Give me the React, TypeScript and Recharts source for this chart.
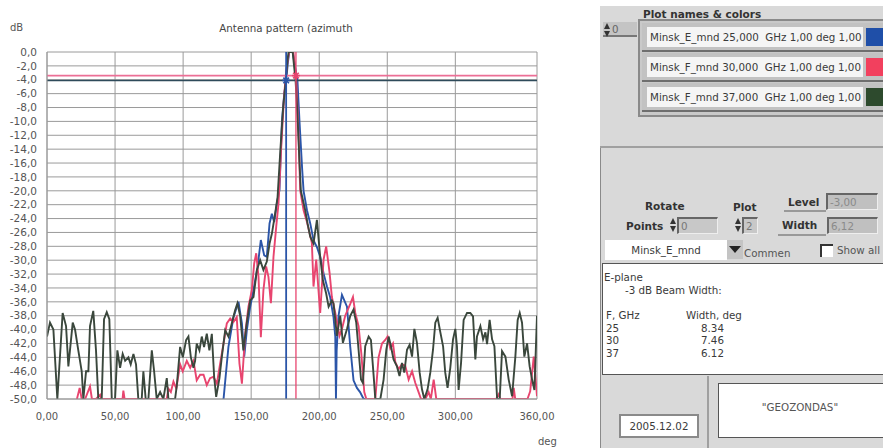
import React from "react";
import {
  LineChart,
  Line,
  XAxis,
  YAxis,
  CartesianGrid,
  ReferenceLine,
  ReferenceDot,
} from "recharts";

// ---- data (angle in deg, level in dB) ----
const xTicks = [0, 50, 100, 150, 200, 250, 300, 360];
const yTicks = [0, -2, -4, -6, -8, -10, -12, -14, -16, -18, -20, -22, -24, -26, -28, -30, -32, -34, -36, -38, -40, -42, -44, -46, -48, -50];

const blueDeg = [129, 129.7, 133.3, 137, 140.7, 143.2, 144.9, 146.8, 149.3, 151.7, 154.7, 157.1, 159.6, 161.5, 163.5, 165.2, 166.9, 168.9, 170.8, 172.6, 174.3, 175.7, 177, 178, 180.5, 182, 184, 185.5, 187.5, 188.5, 191, 193.4, 195.8, 198.3, 200.7, 203.2, 205.7, 208, 210.5, 211.8, 212.3, 212.8, 214.2, 216.7, 220.4, 222.8, 225.2, 227.7, 230, 232.6, 234];
const blueDb = [-50, -50, -42.5, -38.2, -36, -39.1, -43.9, -40.1, -36.7, -34.3, -31, -27.1, -29.3, -29.5, -24.7, -23.3, -24.5, -21.8, -19.9, -10, -6, -4.1, -1.5, 0, 0, -1.8, -4.1, -10, -17, -20, -22.8, -24.7, -27.1, -28.1, -29.5, -31.9, -33.8, -35.3, -38.2, -41, -50, -43, -38, -35, -36.7, -42.5, -47.3, -48.4, -49, -50, -50];

const pinkDeg = [22, 24, 25.5, 28, 31.6, 33, 36, 39, 40, 55.5, 56.1, 57, 88, 89.2, 91, 92.9, 95, 97.8, 99.7, 102.7, 105.2, 107.6, 110, 112.5, 115, 117.4, 119.8, 122.3, 124.8, 127.2, 129.7, 132.1, 134.6, 137, 139.4, 141.4, 143.2, 145.6, 148, 150.5, 152.2, 153.7, 155.4, 157.1, 159, 161, 162.7, 164.5, 166.4, 168.4, 170.1, 172, 174, 175.4, 177, 178, 181, 182.9, 184, 185, 186, 188.5, 191, 194.6, 195.8, 197.8, 200.7, 203.2, 205.1, 207.6, 209.3, 211.8, 214.9, 216.7, 219.1, 222.8, 224.8, 226.5, 228.9, 230.9, 233.1, 234.6, 241.2, 243.6, 246.1, 248.5, 250.2, 252.2, 254.2, 255.9, 258.3, 260.8, 263.2, 265.7, 268.2, 270.6, 273, 274.8, 278, 280.4, 282, 284.1, 286, 330, 331.9, 333, 342, 342.9, 344, 353, 355, 357.6, 360];
const pinkDb = [-50, -48.4, -50, -50, -48.2, -50, -50, -49.4, -50, -50, -48.8, -50, -50, -48.5, -49, -47.5, -48.5, -45, -46, -44.5, -45.5, -44.5, -47.3, -46.5, -46.5, -48, -47, -46.8, -47.8, -44.9, -42, -39.1, -38.4, -38.9, -38.2, -44.9, -47.8, -40.6, -36.7, -34.3, -30.5, -29, -32.4, -41.1, -34.3, -30.9, -32.4, -36.2, -29.5, -25.2, -21.8, -14, -7, -3.4, -1, 0, 0, -3.4, -8, -13, -19.9, -22.8, -24.5, -27.5, -33.8, -29.9, -37.6, -29.9, -28, -31.8, -35.3, -37.6, -40.9, -39.9, -38, -36.3, -35.3, -37.6, -39.5, -43.4, -49, -50, -50, -44, -42, -41.5, -41, -42.7, -42, -44.7, -45.7, -45, -45.2, -47.2, -46, -47.7, -49, -50, -50, -49, -50, -47.2, -50, -50, -49.3, -50, -50, -48.4, -50, -50, -48.9, -43.9, -49.6];

const greenDeg = [0, 2.2, 4.7, 7.6, 11.5, 14, 15.7, 18.9, 20.6, 23, 25.5, 26.7, 28.7, 30.4, 31.6, 34, 36, 37.7, 40.2, 41.9, 43.9, 45.8, 47.6, 50, 51.7, 53.7, 55.6, 57.4, 59.8, 61.5, 63.5, 65.4, 67.1, 69.6, 70.8, 72.5, 74.5, 77, 78.7, 80.6, 83.1, 85.5, 88, 89.2, 91.7, 94.1, 95.4, 97.8, 99.8, 102.2, 103.9, 105.7, 107.6, 108.8, 110, 112, 113.7, 115.4, 117.4, 119.3, 121.1, 122.8, 124.3, 126.7, 128.4, 130.9, 133.3, 135.8, 138.2, 139.9, 141.9, 144.3, 146.8, 149.3, 151.7, 154.2, 156.6, 159, 161.5, 163.5, 165.2, 167.6, 169.4, 171.5, 173.5, 175.5, 176.5, 177.5, 180.5, 181.5, 182.6, 184, 185.3, 186.5, 189.7, 191.4, 193.4, 195.8, 198.3, 200.7, 202.7, 205.1, 206.9, 209.3, 210.5, 213, 215.4, 217.4, 220.4, 222.8, 225.2, 227.2, 228.9, 230.7, 232.1, 233.8, 236.3, 238, 240, 241.2, 244.9, 247.3, 249.3, 251, 252.7, 254.6, 257.1, 259, 260.8, 262.5, 264.5, 266.4, 268.2, 269.9, 271.8, 273.8, 275.5, 277.2, 279.6, 281.6, 283.6, 285.3, 287, 289, 291, 292.6, 294.3, 296.3, 298.3, 300, 301.2, 302.4, 304.2, 306.1, 308.6, 311, 313, 314.7, 315.9, 318.4, 320.4, 322.1, 323.3, 325.2, 327, 328.7, 330.7, 332.6, 334.3, 336.8, 339.2, 341.7, 344.1, 345.8, 347.3, 349, 350.7, 352.7, 354.6, 356.4, 358.1, 360];
const greenDb = [-41, -39, -40, -50, -37.6, -39.5, -45.3, -39, -40, -43, -46, -50, -46, -46, -39.5, -37.3, -43, -50, -50, -38.5, -37.5, -38.5, -50, -50, -43, -45.5, -43.5, -44.5, -44, -45, -43.5, -45, -50, -50, -46, -50, -50, -43, -46, -50, -49, -50, -47, -50, -50, -50, -48, -42.5, -44, -41.5, -41, -44, -45.5, -44.5, -42, -43, -41, -42.5, -40.6, -43, -40.6, -46.8, -49.7, -47, -44, -40.1, -41, -39.1, -37.2, -36.2, -38, -43, -39, -35.8, -35.3, -31.4, -30, -31.4, -30.2, -27.6, -26.2, -23.3, -20.9, -14, -8, -4, -1.5, 0, 0, -2, -4, -9, -15, -20, -22.8, -24.7, -26.6, -27.6, -24.2, -29.5, -32.9, -34.8, -36.7, -35.8, -36.2, -40.9, -38, -41.9, -39.9, -38, -37.1, -39, -42.9, -47.2, -47.7, -42.4, -41, -41.5, -46.7, -50, -50, -47.2, -42.9, -41, -42.4, -44.3, -45.3, -46.7, -44.8, -46.2, -42.9, -42.2, -43.9, -39.9, -41.9, -46.2, -48.6, -50, -48.6, -46.2, -42.9, -39, -38.3, -40.4, -42.4, -46.2, -48.4, -45.5, -41.4, -39.9, -42.4, -48.7, -44.8, -38.6, -37.6, -37.6, -38.1, -44.3, -41, -39.5, -41.4, -40.4, -42.1, -38.6, -41.4, -42.4, -50, -50, -43.1, -43.9, -47.2, -49.6, -43.9, -38.6, -37.6, -39, -43.9, -42, -45.3, -47.2, -48.7, -38];

const plotNames = [
  "Minsk_E_mnd 25,000  GHz 1,00 deg 1,00",
  "Minsk_F_mnd 30,000  GHz 1,00 deg 1,00",
  "Minsk_F_mnd 37,000  GHz 1,00 deg 1,00",
];
const freqs = ["25", "30", "37"];
const widths = ["8.34", "7.46", "6.12"];

const blueLevel = -4.1;
const pinkLevel = -3.4;
const blueCross = 175.7;
const pinkCross = 182.9;

const BLUE = "#2b55a8";
const PINK = "#e8456f";
const GREEN = "#3a473c";
const swatches = ["#1f4fa8", "#f2405e", "#2d4a2d"];

const toSeries = (xs: number[], ys: number[]) => xs.map((d, i) => ({ deg: d, db: ys[i] }));
const blueData = toSeries(blueDeg, blueDb);
const pinkData = toSeries(pinkDeg, pinkDb);
const greenData = toSeries(greenDeg, greenDb);

const fmtX = (v: number) => v.toFixed(2).replace(".", ",");
const fmtY = (v: number) => (v === 0 ? "0,0" : v.toFixed(1).replace(".", ","));

const Star = (color: string) => (p: any) => {
  const { cx, cy } = p;
  const r = 4;
  return (
    <g stroke={color} strokeWidth={1.6}>
      <line x1={cx - r} y1={cy} x2={cx + r} y2={cy} />
      <line x1={cx} y1={cy - r} x2={cx} y2={cy + r} />
      <line x1={cx - r * 0.7} y1={cy - r * 0.7} x2={cx + r * 0.7} y2={cy + r * 0.7} />
      <line x1={cx - r * 0.7} y1={cy + r * 0.7} x2={cx + r * 0.7} y2={cy - r * 0.7} />
    </g>
  );
};

const FONT = "'DejaVu Sans', Verdana, sans-serif";

const abs = (l: number, t: number, extra: React.CSSProperties = {}): React.CSSProperties => ({
  position: "absolute",
  left: l,
  top: t,
  ...extra,
});

const txt: React.CSSProperties = { fontFamily: FONT, fontSize: 10.3, color: "#3a3a3a", whiteSpace: "pre" };
const bold: React.CSSProperties = { fontFamily: FONT, fontSize: 10.5, fontWeight: "bold", color: "#333", whiteSpace: "pre" };

const Spin = ({ l, t }: { l: number; t: number }) => (
  <div style={abs(l, t, { width: 7, height: 14 })}>
    <div style={{ position: "absolute", left: 0, top: 0, width: 0, height: 0, borderLeft: "3.5px solid transparent", borderRight: "3.5px solid transparent", borderBottom: "6px solid #333" }} />
    <div style={{ position: "absolute", left: 0, top: 8, width: 0, height: 0, borderLeft: "3.5px solid transparent", borderRight: "3.5px solid transparent", borderTop: "6px solid #333" }} />
  </div>
);

const Field = ({ l, t, w, h, text, bg = "#c8c8c8", color = "#777" }: any) => (
  <div
    style={abs(l, t, {
      width: w,
      height: h,
      background: bg,
      borderTop: "2px solid #666",
      borderLeft: "2px solid #666",
      borderRight: "1px solid #eee",
      borderBottom: "1px solid #eee",
      boxSizing: "border-box",
      ...txt,
      color,
      paddingLeft: 2,
      lineHeight: h - 3 + "px",
    })}
  >
    {text}
  </div>
);

export default function App() {
  return (
    <div style={{ position: "absolute", left: 0, top: 0, width: 883, height: 448, background: "#fff", overflow: "hidden" }}>
      <div style={abs(0, 0)}>
        <LineChart width={570} height={448} margin={{ top: 52, right: 33, left: 7, bottom: 19 }}>
          <CartesianGrid stroke="#9a9a9a" strokeWidth={1} />
          <XAxis
            dataKey="deg"
            type="number"
            domain={[0, 360]}
            ticks={xTicks}
            interval={0}
            allowDataOverflow
            tickFormatter={fmtX}
            tickSize={0}
            tickMargin={14}
            height={30}
            axisLine={{ stroke: "#9a9a9a" }}
            tick={{ fontSize: 10, fill: "#555", fontFamily: FONT }}
          />
          <YAxis
            type="number"
            domain={[-50, 0]}
            ticks={yTicks}
            interval={0}
            allowDataOverflow
            tickFormatter={fmtY}
            tickSize={0}
            tickMargin={10}
            width={40}
            axisLine={{ stroke: "#9a9a9a" }}
            tick={{ fontSize: 10.5, fill: "#555", fontFamily: FONT }}
          />
          <Line data={blueData} dataKey="db" type="linear" stroke={BLUE} strokeWidth={1.9} dot={false} isAnimationActive={false} />
          <Line data={pinkData} dataKey="db" type="linear" stroke={PINK} strokeWidth={1.9} dot={false} isAnimationActive={false} />
          <Line data={greenData} dataKey="db" type="linear" stroke={GREEN} strokeWidth={1.9} dot={false} isAnimationActive={false} />
          <ReferenceLine y={pinkLevel} stroke="#ec6f96" strokeWidth={1.6} />
          <ReferenceLine y={blueLevel} stroke="#2e4a5a" strokeWidth={1.6} />
          <ReferenceLine x={blueCross} stroke={BLUE} strokeWidth={1.8} />
          <ReferenceLine x={pinkCross} stroke={PINK} strokeWidth={1.3} />
          <ReferenceDot x={blueCross} y={blueLevel} r={4} shape={Star(BLUE)} />
          <ReferenceDot x={pinkCross} y={pinkLevel} r={4} shape={Star(PINK)} />
        </LineChart>
      </div>
      <div style={abs(10, 22, { ...txt, fontSize: 10, color: "#555" })}>dB</div>
      <div style={abs(286, 22, { ...txt, fontSize: 10.3, color: "#444", transform: "translateX(-50%)" })}>Antenna pattern (azimuth</div>
      <div style={abs(538, 436, { ...txt, fontSize: 10, color: "#555" })}>deg</div>

      {/* right control panel */}
      <div style={abs(600, 6, { width: 283, height: 442, background: "#d9d9d9" })} />
      <div style={abs(643, 8, { ...bold, fontSize: 10.5 })}>Plot names &amp; colors</div>
      <div style={abs(603, 22, { width: 34, height: 15, background: "#c4c4c4", borderBottom: "2px solid #777", boxSizing: "border-box" })} />
      <Spin l={604} t={23} />
      <div style={abs(612, 23, { ...txt, color: "#666" })}>0</div>
      <div style={abs(638, 19, { width: 250, height: 98, border: "2px solid #8a8a8a", boxSizing: "border-box", background: "#c9c9c9" })} />
      {plotNames.map((n, i) => (
        <React.Fragment key={n}>
          <div style={abs(642, 23 + 30 * i, { width: 241, height: 29, background: "#c2c2c2", borderBottom: "2px solid #6e6e6e", boxSizing: "border-box" })} />
          <div style={abs(647, 27 + 30 * i, { width: 216, height: 20, background: "#f5f5f5", ...txt, lineHeight: "20px", paddingLeft: 3, boxSizing: "border-box", overflow: "hidden" })}>{n}</div>
          <div style={abs(866, 28 + 30 * i, { width: 17, height: 18, background: swatches[i] })} />
        </React.Fragment>
      ))}

      <div style={abs(600, 146, { width: 283, height: 2, background: "#a0a0a0" })} />
      <div style={abs(600, 148, { width: 1, height: 300, background: "#8a8a8a" })} />

      <div style={abs(645, 200, bold)}>Rotate</div>
      <div style={abs(626, 220, bold)}>Points</div>
      <Spin l={670} t={218} />
      <Field l={677} t={217} w={41} h={17} text="0" />
      <div style={abs(733, 201, bold)}>Plot</div>
      <Spin l={735} t={218} />
      <Field l={742} t={217} w={16} h={17} text="2" />
      <div style={abs(788, 196, bold)}>Level</div>
      <div style={abs(784, 210, { width: 42, height: 2, background: "#999" })} />
      <Field l={826} t={193} w={52} h={17} text="-3,00" bg="#c0c0c0" color="#8a8a8a" />
      <div style={abs(782, 219, bold)}>Width</div>
      <div style={abs(778, 234, { width: 48, height: 2, background: "#999" })} />
      <Field l={827} t={217} w={51} h={17} text="6,12" bg="#c0c0c0" color="#8a8a8a" />

      <div style={abs(605, 240, { width: 122, height: 20, background: "#fff", ...txt, textAlign: "center", lineHeight: "20px" })}>Minsk_E_mnd</div>
      <div style={abs(727, 240, { width: 16, height: 19, background: "#c4c4c4" })}>
        <div style={{ position: "absolute", left: 2, top: 6, width: 0, height: 0, borderLeft: "6px solid transparent", borderRight: "6px solid transparent", borderTop: "7px solid #222" }} />
      </div>
      <div style={abs(744, 247, { ...txt, color: "#555" })}>Commen</div>
      <div style={abs(820, 244, { width: 13, height: 13, background: "#fff", borderTop: "2px solid #333", borderLeft: "2px solid #333", boxSizing: "border-box" })} />
      <div style={abs(837, 244, { ...txt, color: "#555" })}>Show all</div>

      <div style={abs(602, 263, { width: 285, height: 112, background: "#fff", border: "1px solid #555", boxSizing: "border-box" })} />
      <div style={abs(604, 271, txt)}>E-plane</div>
      <div style={abs(625, 284, txt)}>-3 dB Beam Width:</div>
      <div style={abs(606, 309, txt)}>F, GHz</div>
      <div style={abs(686, 309, txt)}>Width, deg</div>
      {freqs.map((f, i) => (
        <React.Fragment key={f}>
          <div style={abs(606, 322 + 12.3 * i, txt)}>{f}</div>
          <div style={abs(701, 322 + 12.3 * i, txt)}>{widths[i]}</div>
        </React.Fragment>
      ))}

      <div style={abs(707, 376, { width: 2, height: 72, background: "#a0a0a0" })} />
      <div style={abs(619, 414, { width: 80, height: 24, background: "#fff", border: "2px solid #8a8a8a", boxSizing: "border-box", ...txt, textAlign: "center", lineHeight: "20px" })}>2005.12.02</div>
      <div style={abs(718, 383, { width: 170, height: 55, background: "#fff", border: "1px solid #555", boxSizing: "border-box" })} />
      <div style={abs(800, 401, { ...txt, color: "#555", transform: "translateX(-50%)" })}>"GEOZONDAS"</div>
    </div>
  );
}
